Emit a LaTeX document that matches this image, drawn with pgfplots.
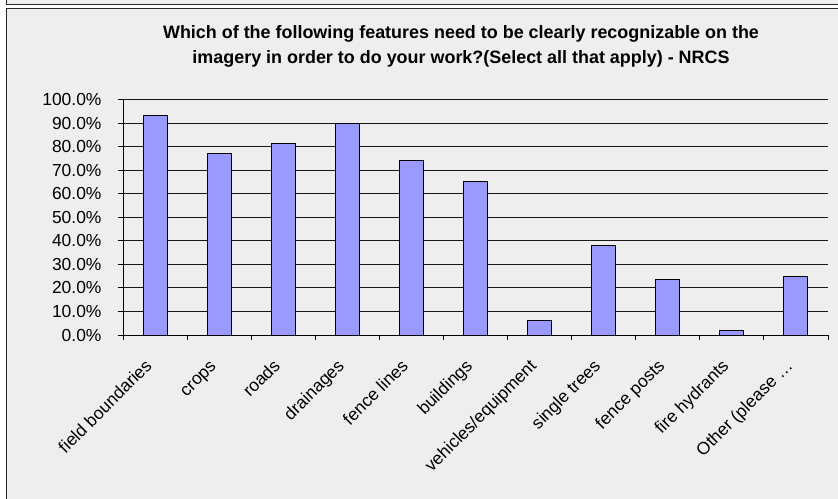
\documentclass[border=0pt]{standalone}
\usepackage{pgfplots}
\pgfplotsset{compat=1.18}
\usepackage{fontspec}
\setmainfont{Liberation Sans}
\definecolor{bg}{RGB}{238,238,238}
\definecolor{barc}{RGB}{153,153,255}
\begin{document}
\begin{tikzpicture}[x=1bp,y=1bp]
\path[use as bounding box] (0,0) rectangle (838,499);
\fill[white] (0,0) rectangle (838,499);
\fill[bg] (6.5,494.5) rectangle (838,499);
\draw[line width=1.3bp, black!85] (6.5,499) -- (6.5,494.5) -- (838,494.5);
\fill[bg] (6.5,0) rectangle (838,490.5);
\draw[line width=1.3bp, black!85] (6.5,0) -- (6.5,490.5) -- (838,490.5);
\begin{axis}[
  at={(123bp,163.9bp)}, anchor=south west,
  scale only axis, width=705bp, height=235.5bp,
  xmin=-0.5, xmax=10.5, ymin=0, ymax=100,
  ybar, bar width=24bp,
  axis x line*=bottom, axis y line*=left,
  axis line style={black, line width=1bp},
  /pgf/number format/assume math mode=true,
  ytick={0,10,...,100},
  yticklabel={\pgfmathprintnumber[fixed,fixed zerofill,precision=1]{\tick}\%},
  ymajorgrids, grid style={black!90, line width=1bp},
  xtick={0,...,10},
  xticklabels={field boundaries, crops, roads, drainages, fence lines, buildings, vehicles/equipment, single trees, fence posts, fire hydrants, Other (please …},
  minor xtick={-0.5,0.5,...,10.5},
  major x tick style={draw=none},
  minor x tick style={black, line width=1bp},
  y tick style={black, line width=1bp},
  tick align=outside, major tick length=5bp, minor tick length=5bp,
  ticklabel style={font=\fontsize{17.5}{20}\selectfont},
  yticklabel style={xshift=-13bp},
  xticklabel style={xshift=-4bp, yshift=-25bp, rotate=45, anchor=east, inner sep=0pt, text height=0.72em, text depth=0.2em},
  clip=false,
]
\addplot[fill=barc, draw=black, line width=1bp] coordinates {
(0,93.2) (1,77.1) (2,81.4) (3,90.0) (4,74.0) (5,65.2) (6,6.4) (7,38.0) (8,23.7) (9,2.0) (10,24.8)
};
\end{axis}
\node[anchor=base, font=\bfseries\fontsize{18}{20}\selectfont] at (461,460.7) {Which of the following features need to be clearly recognizable on the};
\node[anchor=base, font=\bfseries\fontsize{18}{20}\selectfont] at (461,435.7) {imagery in order to do your work?(Select all that apply) - NRCS};
\end{tikzpicture}
\end{document}
